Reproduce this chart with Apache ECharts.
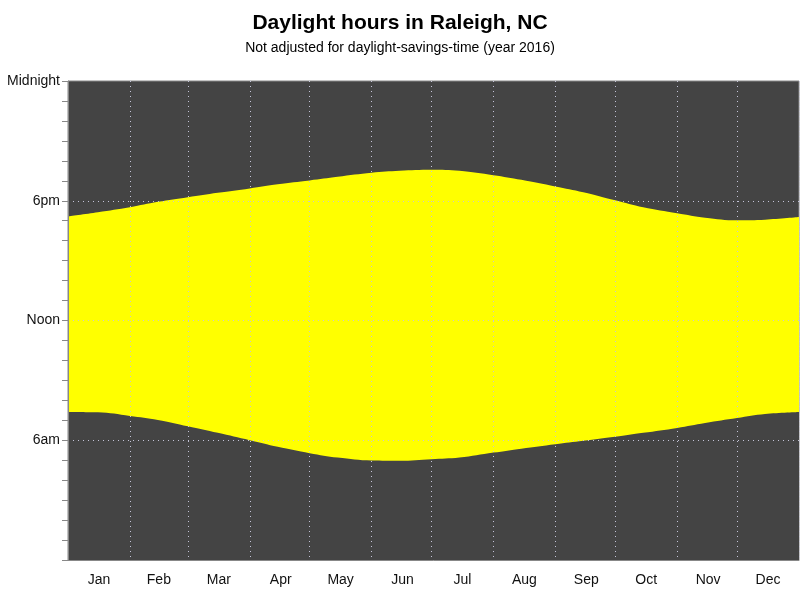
<!DOCTYPE html>
<html>
<head>
<meta charset="utf-8">
<script src="https://cdn.jsdelivr.net/npm/echarts@6/dist/echarts.min.js"></script>
<style>html,body{margin:0;padding:0;background:#fff}#c{width:800px;height:600px}</style>
</head>
<body>
<div id="c"></div>
<script>
// Day of year (0 = Jan 1) at which values were read
const days    = [0, 15, 31, 45, 60, 75, 91, 105, 121, 135, 152, 166, 182, 196, 213, 227, 244, 258, 274, 288, 305, 319, 335, 349, 366];
// Sunset time (hours, standard time)
const sunset  = [17.22, 17.43, 17.68, 17.95, 18.18, 18.40, 18.62, 18.83, 19.02, 19.20, 19.40, 19.50, 19.55, 19.50, 19.28, 19.05, 18.72, 18.43, 18.02, 17.67, 17.37, 17.15, 17.02, 17.05, 17.18];
// Sunrise time (hours, standard time)
const sunrise = [7.42, 7.40, 7.22, 7.02, 6.70, 6.37, 6.00, 5.67, 5.35, 5.13, 4.98, 4.97, 5.05, 5.13, 5.38, 5.58, 5.80, 5.97, 6.17, 6.37, 6.62, 6.87, 7.12, 7.32, 7.42];
const months = ['Jan','Feb','Mar','Apr','May','Jun','Jul','Aug','Sep','Oct','Nov','Dec'];
const monthLengths = [31,29,31,30,31,30,31,31,30,31,30,31];
const yTickLabels = {6:'6am', 12:'Noon', 18:'6pm', 24:'Midnight'};

const monthStarts = [];
let acc = 0;
monthLengths.forEach(l => { monthStarts.push(acc); acc += l; });
const totalDays = acc;
const midIdx = {};
monthStarts.forEach((s, i) => { midIdx[s + Math.floor(monthLengths[i] / 2)] = months[i]; });
const startSet = new Set(monthStarts.slice(1));
const dayCats = [];
for (let i = 0; i < totalDays; i++) dayCats.push(String(i));

const setData = days.map((d, i) => [d, sunset[i]]);
const riseData = days.map((d, i) => [d, sunrise[i]]);

const gridColor = '#c4c4d8';
const chart = echarts.init(document.getElementById('c'));
chart.setOption({
  animation: false,
  backgroundColor: '#ffffff',
  textStyle: {fontFamily: 'Liberation Sans, Arial, sans-serif'},
  title: {
    text: 'Daylight hours in Raleigh, NC',
    subtext: 'Not adjusted for daylight-savings-time (year 2016)',
    left: 'center', top: 8, itemGap: 7,
    textStyle: {fontSize: 21, fontWeight: 'bold', color: '#000'},
    subtextStyle: {fontSize: 14, color: '#000'}
  },
  grid: {left: 68, right: 1, top: 81, bottom: 40, show: true, backgroundColor: '#444444', borderWidth: 1, borderColor: '#888888'},
  xAxis: [
    {type: 'value', min: 0, max: totalDays, show: false},
    {
      type: 'category', data: dayCats, position: 'bottom', boundaryGap: true, z: 5,
      axisLine: {show: true, lineStyle: {color: '#888888', width: 1}},
      axisTick: {show: false},
      axisLabel: {
        interval: (idx) => midIdx[idx] !== undefined,
        formatter: (v, idx) => midIdx[idx] || '',
        color: '#111', fontSize: 14, margin: 13
      },
      splitLine: {
        show: true,
        interval: (idx) => startSet.has(idx),
        lineStyle: {color: gridColor, type: [1, 4], width: 1}
      }
    }
  ],
  yAxis: {
    type: 'value', min: 0, max: 24, interval: 6, z: 5,
    axisLine: {show: true, lineStyle: {color: '#888888', width: 1}},
    axisTick: {show: true, length: 6, lineStyle: {color: '#888888'}},
    minorTick: {show: true, splitNumber: 6, length: 6, lineStyle: {color: '#888888'}},
    axisLabel: {formatter: v => yTickLabels[v] || '', color: '#111', fontSize: 14, margin: 8},
    splitLine: {show: true, showMinLine: false, showMaxLine: false, lineStyle: {color: gridColor, type: [1, 4], width: 1}}
  },
  series: [
    {
      name: 'Sunset', type: 'line', xAxisIndex: 0, data: setData, smooth: 0.4,
      symbol: 'none', lineStyle: {width: 0}, areaStyle: {color: '#ffff00', opacity: 1}, z: 1
    },
    {
      name: 'Sunrise', type: 'line', xAxisIndex: 0, data: riseData, smooth: 0.4,
      symbol: 'none', lineStyle: {width: 0}, areaStyle: {color: '#444444', opacity: 1}, z: 2
    }
  ]
});
</script>
</body>
</html>
